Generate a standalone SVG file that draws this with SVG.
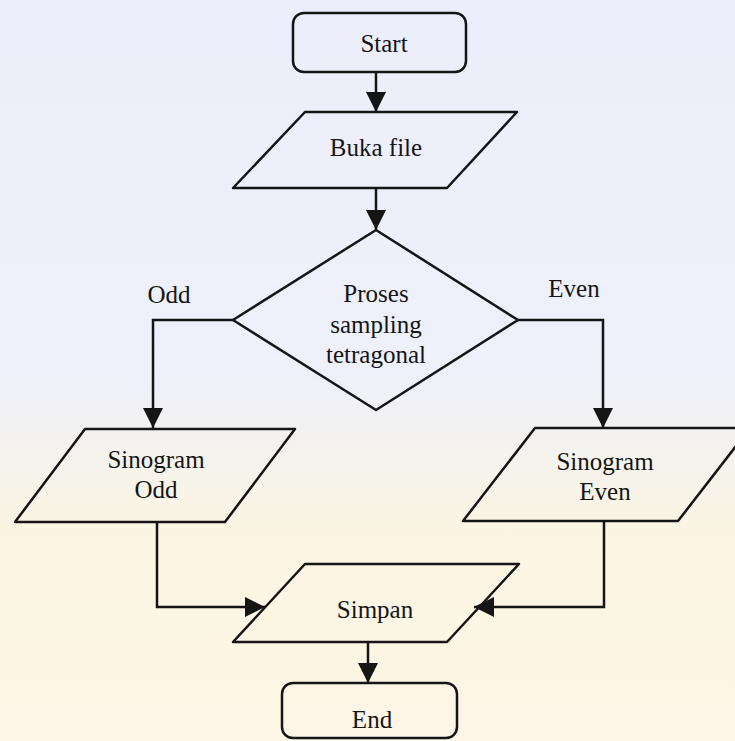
<svg xmlns="http://www.w3.org/2000/svg" width="735" height="741" viewBox="0 0 735 741">
<defs>
<linearGradient id="bg" x1="0" y1="0" x2="0" y2="1">
<stop offset="0" stop-color="#eceefb"/>
<stop offset="0.5" stop-color="#eef0fa"/>
<stop offset="0.72" stop-color="#fbf5e2"/>
<stop offset="1" stop-color="#fdf6e6"/>
</linearGradient>
<marker id="ah" markerWidth="10" markerHeight="10" refX="9" refY="5" orient="auto" markerUnits="userSpaceOnUse" viewBox="0 0 10 10">
<path d="M0,0 L10,5 L0,10 z" fill="#151515"/>
</marker>
<marker id="arrow" viewBox="0 0 20 20" refX="20" refY="10" markerWidth="20" markerHeight="20" orient="auto" markerUnits="userSpaceOnUse">
<path d="M0,0 L20,10 L0,20 z" fill="#151515"/>
</marker>
</defs>
<style>
.shape{fill:none;stroke:#151515;stroke-width:2.5;stroke-linejoin:round}
.conn{fill:none;stroke:#151515;stroke-width:2.5}
text{font-family:"Liberation Serif","Times New Roman",serif;font-size:25px;fill:#151515;text-anchor:middle}
</style>
<rect x="0" y="0" width="735" height="741" fill="url(#bg)"/>
<g id="connectors">
<path class="conn" d="M376,72 V112" marker-end="url(#arrow)"/>
<path class="conn" d="M376,188 V230" marker-end="url(#arrow)"/>
<path class="conn" d="M233,320 H153 V428" marker-end="url(#arrow)"/>
<path class="conn" d="M518,320 H603 V428" marker-end="url(#arrow)"/>
<path class="conn" d="M157,522 V607 H265" marker-end="url(#arrow)"/>
<path class="conn" d="M604,521 V607 H474" marker-end="url(#arrow)"/>
<path class="conn" d="M368,642 V683" marker-end="url(#arrow)"/>
<text x="169" y="303">Odd</text>
<text x="574" y="297">Even</text>
</g>
<g id="start">
<rect class="shape" x="293" y="13" width="173" height="59" rx="11"/>
<text x="384" y="52">Start</text>
</g>
<g id="buka">
<polygon class="shape" points="305,112 517,112 447,188 233,188"/>
<text x="376" y="156">Buka file</text>
</g>
<g id="proses">
<polygon class="shape" points="376,230 518,320 376,410 233,320"/>
<text x="376" y="302">Proses</text>
<text x="376" y="333">sampling</text>
<text x="376" y="363">tetragonal</text>
</g>
<g id="sinogram-odd">
<polygon class="shape" points="85,429 295,429 225,522 15,522"/>
<text x="156" y="468">Sinogram</text>
<text x="156" y="498">Odd</text>
</g>
<g id="sinogram-even">
<polygon class="shape" points="535,428 750,428 678,521 463,521"/>
<text x="605" y="470">Sinogram</text>
<text x="605" y="500">Even</text>
</g>
<g id="simpan">
<polygon class="shape" points="305,564 519,564 447,642 233,642"/>
<text x="375" y="618">Simpan</text>
</g>
<g id="end">
<rect class="shape" x="282" y="683" width="175" height="55" rx="11"/>
<text x="372" y="728">End</text>
</g>
</svg>
